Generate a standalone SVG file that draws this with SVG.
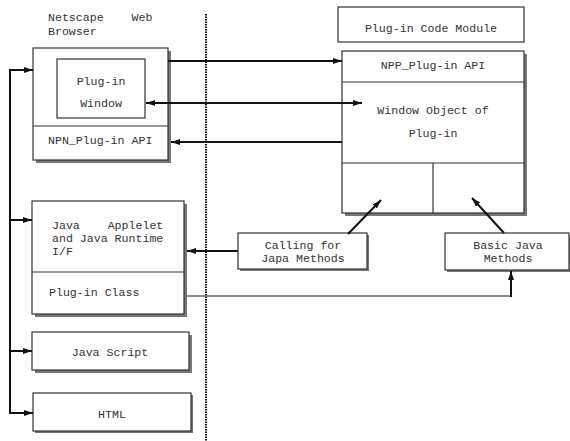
<svg xmlns="http://www.w3.org/2000/svg" width="570" height="441" viewBox="0 0 570 441">
<defs>
<marker id="ah" markerUnits="userSpaceOnUse" markerWidth="10" markerHeight="8" refX="9" refY="3" orient="auto-start-reverse"><path d="M0,0 L9,3 L0,6 z" fill="#111"/></marker>
<style>
text{font-family:"Liberation Mono","DejaVu Sans Mono",monospace;font-size:11.6px;fill:#333;white-space:pre}
.c{text-anchor:middle}
.box{fill:#fff;stroke:#333;stroke-width:1.2}
.sh{fill:#777}
.ln{stroke:#333;stroke-width:1.2;fill:none}
.cn{stroke:#111;stroke-width:2;fill:none}
</style>
</defs>
<rect width="570" height="441" fill="#fff"/>
<line x1="206" y1="14" x2="206" y2="441" stroke="#111" stroke-width="2" stroke-dasharray="1.5,1"/>
<g id="browser">
<text x="48" y="21">Netscape    Web</text>
<text x="48" y="35">Browser</text>
<rect class="sh" x="36" y="51" width="135" height="112"/>
<rect class="box" x="33" y="48" width="135" height="112"/>
<line class="ln" x1="33" y1="126" x2="168" y2="126"/>
<text x="48" y="144">NPN_Plug-in API</text>
</g>
<g id="plugin-window">
<rect class="box" x="57" y="59" width="88" height="59"/>
<text class="c" x="101" y="85">Plug-in</text>
<text class="c" x="101" y="107">Window</text>
</g>
<g id="code-module">
<rect class="box" x="338" y="7" width="186" height="35"/>
<text class="c" x="431" y="32">Plug-in Code Module</text>
</g>
<g id="npp">
<rect class="sh" x="345" y="54" width="182" height="162"/>
<rect class="box" x="342" y="51" width="182" height="162"/>
<line class="ln" x1="342" y1="82" x2="524" y2="82"/>
<line class="ln" x1="342" y1="163" x2="524" y2="163"/>
<line class="ln" x1="433" y1="163" x2="433" y2="213"/>
<text class="c" x="433" y="69">NPP_Plug-in API</text>
<text class="c" x="433" y="114">Window Object of</text>
<text class="c" x="433" y="137">Plug-in</text>
</g>
<g id="java-applet">
<rect class="sh" x="35" y="204" width="152" height="113"/>
<rect class="box" x="32" y="201" width="152" height="113"/>
<line class="ln" x1="32" y1="272" x2="184" y2="272"/>
<text x="52" y="229">Java    Applelet</text>
<text x="52" y="242">and Java Runtime</text>
<text x="52" y="255">I/F</text>
<text x="49" y="296">Plug-in Class</text>
</g>
<g id="javascript">
<rect class="sh" x="35" y="335" width="157" height="38"/>
<rect class="box" x="32" y="332" width="157" height="38"/>
<text class="c" x="110" y="356">Java Script</text>
</g>
<g id="html">
<rect class="sh" x="35" y="395" width="158" height="38"/>
<rect class="box" x="33" y="393" width="158" height="38"/>
<text class="c" x="112" y="418">HTML</text>
</g>
<g id="calling">
<rect class="sh" x="240" y="235" width="129" height="36"/>
<rect class="box" x="238" y="233" width="129" height="36"/>
<text class="c" x="303" y="249">Calling for</text>
<text class="c" x="303" y="262">Japa Methods</text>
</g>
<g id="basic">
<rect class="sh" x="447" y="235" width="124" height="37"/>
<rect class="box" x="445" y="233" width="124" height="37"/>
<text class="c" x="508" y="249">Basic Java</text>
<text class="c" x="508" y="262">Methods</text>
</g>
<g id="connectors">
<line class="cn" x1="10" y1="70" x2="10" y2="413"/>
<line class="cn" x1="9" y1="70" x2="33" y2="70" marker-end="url(#ah)"/>
<line class="cn" x1="9" y1="220" x2="32" y2="220" marker-end="url(#ah)"/>
<line class="cn" x1="9" y1="351" x2="32" y2="351" marker-end="url(#ah)"/>
<line class="cn" x1="9" y1="413" x2="33" y2="413" marker-end="url(#ah)"/>
<line class="cn" x1="168" y1="61" x2="342" y2="61" marker-end="url(#ah)"/>
<line class="cn" x1="146" y1="103" x2="362" y2="103" marker-start="url(#ah)" marker-end="url(#ah)"/>
<line class="cn" x1="342" y1="142" x2="171" y2="142" marker-end="url(#ah)"/>
<line class="cn" x1="238" y1="251" x2="187" y2="251" marker-end="url(#ah)"/>
<line class="cn" x1="348" y1="234" x2="381" y2="200" marker-end="url(#ah)"/>
<line class="cn" x1="504" y1="233" x2="472" y2="198" marker-end="url(#ah)"/>
<polyline points="184,296 511,296" fill="none" stroke="#666" stroke-width="1.5"/>
<line class="cn" x1="511" y1="297" x2="511" y2="271" marker-end="url(#ah)"/>
</g>
</svg>
